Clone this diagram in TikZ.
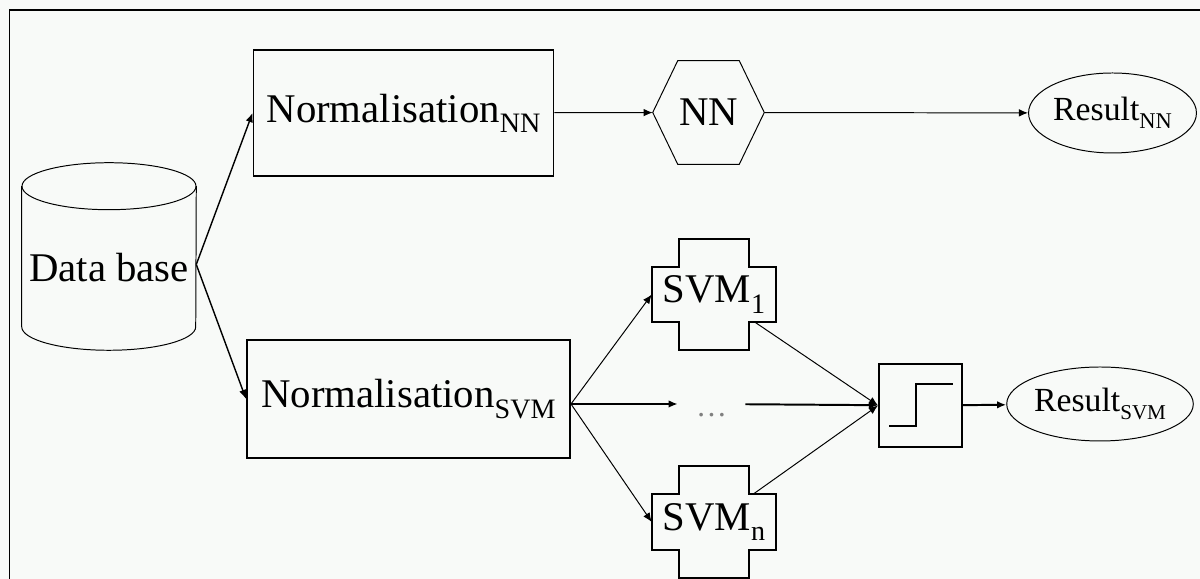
\documentclass[tikz,border=0pt]{standalone}
\usepackage{fontspec}
\setmainfont{Liberation Serif}
\usetikzlibrary{arrows.meta, shapes.geometric}
\definecolor{paper}{RGB}{248,250,248}
\newcommand\bigtext{\fontsize{29}{34}\selectfont}
\newcommand\smalltext{\fontsize{24}{28}\selectfont}
\newcommand\lowsub[2]{\raisebox{-0.25em}{\fontsize{#1}{#1}\selectfont #2}}
% outline of the plus shaped svm blocks
\newcommand\plusborder[1]{\draw[-, line width=1.2pt] (#1.north west) -- ++(0.675,0) -- ++(0,0.7) -- ++(1.75,0) -- ++(0,-0.7) -- (#1.north east) -- (#1.south east) -- ++(-0.675,0) -- ++(0,-0.7) -- ++(-1.75,0) -- ++(0,0.7) -- (#1.south west) -- cycle;}

\begin{document}
\begin{tikzpicture}[->, >={Latex[length=2.3mm, width=1.9mm]}, thin line/.style={line width=0.7pt}, box node/.style={rectangle, draw, line width=1.4pt, inner sep=0pt, font=\bigtext}, result node/.style={ellipse, draw, line width=0.7pt, inner sep=0pt, font=\smalltext}, plain node/.style={inner sep=0pt, font=\bigtext}]
        \fill[paper] (0,0) rectangle (30,14.475);
        \useasboundingbox (0,0) rectangle (30,14.475);
        \draw[-, line width=1.4pt] (0.2375,0) |- (30,14.225);

        \node[plain node, minimum width=4.35cm, minimum height=3.5cm, text height=1.275cm, text depth=0cm] (db) at (2.725,8.0625) {Data base};
        \node[box node, minimum width=7.5cm, minimum height=3.15cm] (normnn) at (10.0875,11.65) {Normalisation\lowsub{20}{NN}};
        \node[box node, minimum width=8.075cm, minimum height=2.95cm] (normsvm) at (10.2125,4.5) {Normalisation\lowsub{20}{SVM}};
        \node[plain node, minimum width=2.775cm, minimum height=2.575cm] (nn) at (17.7125,11.6625) {NN};
        \node[result node, minimum width=3.875cm, minimum height=2cm] (resnn) at (27.8125,11.65) {Result\lowsub{16}{NN}};
        \node[plain node, minimum width=3.1cm, minimum height=1.375cm] (svm1) at (17.85,7.1125) {SVM\lowsub{20}{1}};
        \node[plain node, minimum width=3.1cm, minimum height=1.375cm] (svmn) at (17.85,1.425) {SVM\lowsub{20}{n}};
        \node[inner sep=0pt, minimum width=1.675cm, text height=0.65cm, text depth=0cm, text=gray, font=\fontsize{22}{26}\selectfont] (dots) at (17.7875,4.375) {\ldots};
        \node[box node, minimum size=2.075cm] (step) at (23.0125,4.3375) {};
        \node[result node, minimum width=4.5cm, minimum height=1.85cm] (ressvm) at (27.5,4.375) {Result\lowsub{15}{SVM}};
        \coordinate (fork) at (normsvm.east |- dots.west);

        % cylinder
        \draw[-, thin line] (db.north west) -- (db.south west) arc[start angle=180, end angle=360, x radius=2.175cm, y radius=0.5875cm] -- (db.north east);
        \draw[-, thin line] (db.north) ellipse [x radius=2.175cm, y radius=0.5875cm];
        % hexagon
        \draw[-, thin line] (nn.west) -- ([xshift=0.625cm]nn.north west) -- ([xshift=-0.625cm]nn.north east) -- (nn.east) -- ([xshift=-0.625cm]nn.south east) -- ([xshift=0.625cm]nn.south west) -- cycle;
        \plusborder{svm1}
        \plusborder{svmn}
        % step function
        \draw[-, line width=1.4pt] ([shift={(-0.7875,-0.5125)}]step.center) -| ([shift={(-0.1125,0.5375)}]step.center) -- ([shift={(0.8125,0.5375)}]step.center);

        \path[line width=1pt]
        ([yshift=-0.2cm]db.east) edge (normnn.west)
        ([yshift=-0.2cm]db.east) edge (normsvm.west);

        \path[thin line]
        (normnn) edge (nn)
        (nn) edge (resnn)
        (fork) edge (svm1.west)
        (fork) edge (svmn.west)
        (svm1) edge (step.west)
        (svmn) edge (step.west);

        \path[line width=1.4pt]
        (fork) edge (dots)
        (dots) edge (step)
        (step) edge (ressvm);

    \end{tikzpicture}
\end{document}
